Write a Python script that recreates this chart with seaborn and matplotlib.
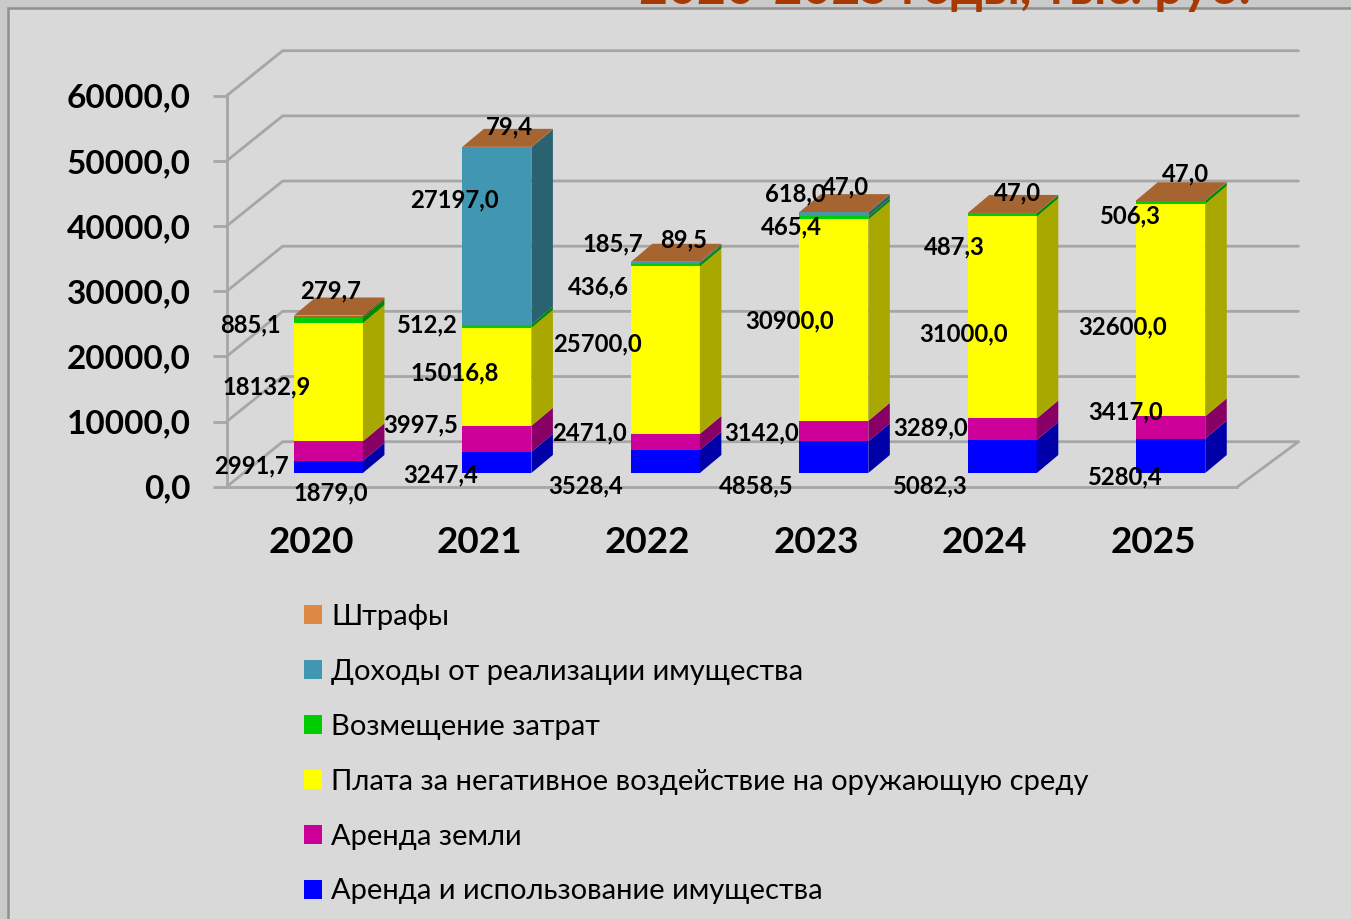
# stacked 3d-look bars: income by year

import matplotlib.pyplot as plt
from matplotlib.patches import Patch, Rectangle
import numpy as np
import seaborn as sns

years = ['2020', '2021', '2022', '2023', '2024', '2025']
arenda_imush = [1879.0, 3247.4, 3528.4, 4858.5, 5082.3, 5280.4]
arenda_zemli = [2991.7, 3997.5, 2471.0, 3142.0, 3289.0, 3417.0]
plata = [18132.9, 15016.8, 25700.0, 30900.0, 31000.0, 32600.0]
vozmeshenie = [885.1, 512.2, 436.6, 465.4, 487.3, 506.3]
dohody = [0, 27197.0, 185.7, 618.0, 0, 0]
shtrafy = [279.7, 79.4, 89.5, 47.0, 47.0, 47.0]

series = [arenda_imush, arenda_zemli, plata, vozmeshenie, dohody, shtrafy]
names = ['Аренда и использование имущества', 'Аренда земли',
         'Плата за негативное воздействие на оружающую среду',
         'Возмещение затрат', 'Доходы от реализации имущества', 'Штрафы']
yticks = [0, 10000, 20000, 30000, 40000, 50000, 60000]

front_cols = ['#0000FF', '#CC0099', '#FFFF00', '#00CC00', '#4197B1', '#A66430']
side_cols = ['#0000A8', '#880066', '#A8A800', '#008800', '#2B6270', '#7E4C26']
legend_cols = ['#0000FF', '#CC0099', '#FFFF00', '#00CC00', '#4197B1', '#DD8844']
top_col = '#A66430'
line_col = '#A6A6A6'

# label offsets from the middle of each segment, px (right, down)
label_off = [
    [(2, 27), (-56.5, 13.6), (-80, 25.5), (-77.5, 29.8), (-73, 30.6), (-46.5, 22.2)],
    [(-77, 16), (-76.5, -12.8), (-76, -8), (-72.5, 2.9), (-72, -0.2), (-45.5, -14.5)],
    [(-62, 6), (-42.5, -2.9), (-68, -5), (-44.5, 1.8), (-39, 17.6), (-48.5, 17.9)],
    [(-78, 6), (-70.5, -0.3), (-67, 23), (-42.5, 10), (-48, 33.2), (-41.5, 14.8)],
    [None, (-42.5, -35), (-53, -18), (-38.5, -19.4), None, None],
    [(2, -24), (12.5, -19), (18, -21), (11.5, -24.3), (15, -19), (14.5, -25.4)],
]

W, H = 1351, 919
AX_L, AX_R, AX_Y0, AX_YT = 226.7, 1237.5, 486.7, 95.7
px_x = 6 / (AX_R - AX_L)
px_y = 60000 / (AX_Y0 - AX_YT)

sns.set_theme(style='white', rc={'axes.facecolor': 'none'})
plt.rcParams['font.family'] = ['Lato', 'Open Sans', 'DejaVu Sans']

fig = plt.figure(figsize=(W / 100, H / 100), dpi=100, facecolor='#CACACA')
fig.add_artist(Rectangle((8 / W, -0.1), 1.1, 1 - 8 / H + 0.1, transform=fig.transFigure,
                         facecolor='#D9D9D9', edgecolor='#8F8F8F', lw=1.8, zorder=-5))
fig.text(945 / W, 1 - 4 / H, '2020-2025 годы, тыс. руб.', color='#A63A02', fontsize=36,
         fontweight='bold', ha='center', va='baseline')

ax = fig.add_axes([AX_L / W, 1 - AX_Y0 / H, (AX_R - AX_L) / W, (AX_Y0 - AX_YT) / H])

# bar faces sit inside the floor depth
shift_x = 17.5 * px_x
shift_y = 13.7 * px_y
side_x = 21.5 * px_x
side_y = 18 * px_y
back_x = 56 * px_x
back_y = 45 * px_y
back_end = 5 * px_x
bar_w = 69 * px_x

# walls and floor
for t in yticks:
    ax.plot([-0.5, -0.5 + back_x, 5.5 + back_x + back_end], [t, t + back_y, t + back_y],
            color=line_col, lw=2, clip_on=False, zorder=1, solid_joinstyle='miter')
ax.plot([5.5, 5.5 + back_x + back_end], [0, back_y], color=line_col, lw=2, clip_on=False, zorder=1)

bottom = np.zeros(len(years))
for s, vals in enumerate(series):
    vals = np.array(vals)
    n_before = len(ax.patches)
    sns.barplot(x=years, y=vals, bottom=bottom + shift_y, color=front_cols[s], saturation=1,
                width=bar_w, ax=ax, order=years, zorder=3, linewidth=0, clip_on=False)
    for p in ax.patches[n_before:]:
        p.set_x(p.get_x() + shift_x)
        p.set_clip_on(False)
    for i, v in enumerate(vals):
        if v == 0:
            continue
        xr = i + shift_x + bar_w / 2
        y0 = bottom[i] + shift_y
        ax.fill([xr, xr + side_x, xr + side_x, xr], [y0, y0 + side_y, y0 + v + side_y, y0 + v],
                color=side_cols[s], lw=0, zorder=3, clip_on=False)
        off = label_off[s][i]
        ax.annotate(f'{v:.1f}'.replace('.', ','), (i + shift_x, y0 + v / 2), xytext=(off[0], -off[1] + 1),
                    textcoords='offset pixels', ha='center', va='center', fontsize=17.2,
                    fontweight='bold', color='black', zorder=6, annotation_clip=False)
    bottom += vals

# bar tops
for i, total in enumerate(bottom):
    xl = i + shift_x - bar_w / 2
    xr = i + shift_x + bar_w / 2
    y0 = total + shift_y
    ax.fill([xl, xr, xr + side_x, xl + side_x], [y0, y0, y0 + side_y, y0 + side_y],
            color=top_col, lw=0, zorder=4, clip_on=False)

ax.set_xlim(-0.5, 5.5)
ax.set_ylim(0, 60000)
ax.set_yticks(yticks)
ax.set_yticklabels([f'{t:.1f}'.replace('.', ',') for t in yticks], fontsize=24, fontweight='bold')
ax.set_xticks(np.arange(6))
ax.set_xticklabels(years, fontsize=26.6, fontweight='bold')
ax.set_xticks(np.arange(7) - 0.5, minor=True)
ax.tick_params(axis='x', which='major', length=0, pad=28, colors='black')
ax.tick_params(axis='x', which='minor', length=12, width=2, color=line_col)
ax.tick_params(axis='y', length=10, width=2, color=line_col, pad=16, labelcolor='black', left=True)
sns.despine(ax=ax, top=True, right=True)
for side in ['left', 'bottom']:
    ax.spines[side].set_color(line_col)
    ax.spines[side].set_linewidth(2)
ax.set_xlabel('')
ax.set_ylabel('')

# legend, top series first
handles = [Patch(facecolor=c, edgecolor='none') for c in legend_cols[::-1]]
fig.legend(handles, names[::-1], loc='upper left', bbox_to_anchor=(304 / W, 1 - 604 / H),
           bbox_transform=fig.transFigure, frameon=False, fontsize=21, ncol=1,
           handlelength=0.62, handleheight=0.62, handletextpad=0.31, labelspacing=0.99,
           labelcolor='black', borderpad=0, borderaxespad=0)

fig.savefig('out.png', dpi=100, facecolor=fig.get_facecolor())
